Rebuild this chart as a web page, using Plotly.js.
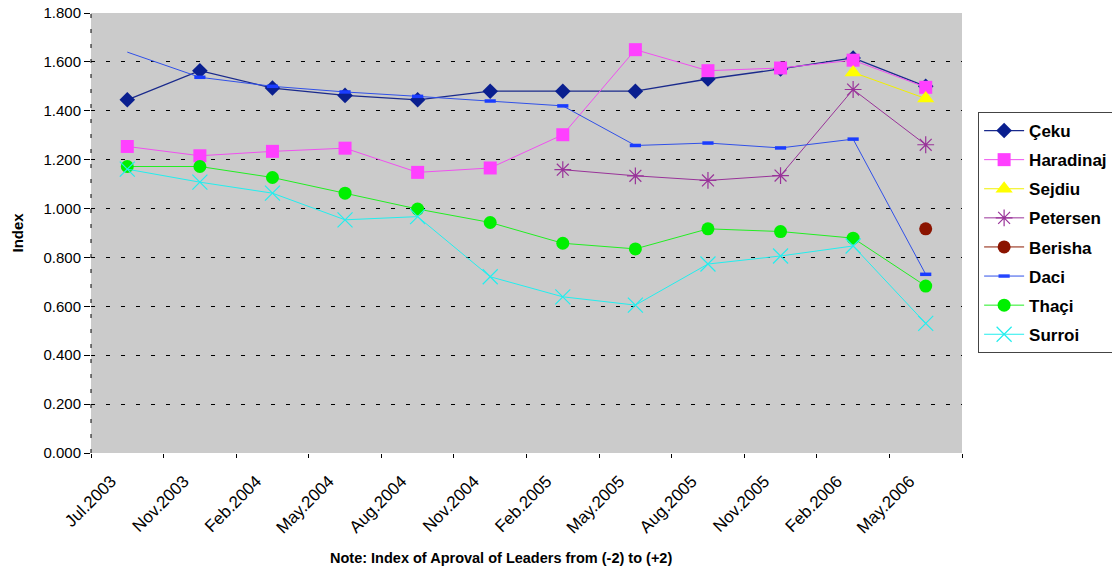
<!DOCTYPE html>
<html><head><meta charset="utf-8">
<script src="https://cdn.plot.ly/plotly-3.0.1.min.js"></script>
<style>body{margin:0;background:#fff}#chart{width:1112px;height:571px}</style>
</head><body><div id="chart"></div>
<script>
const periods = ["Jul.2003","Nov.2003","Feb.2004","May.2004","Aug.2004","Nov.2004","Feb.2005","May.2005","Aug.2005","Nov.2005","Feb.2006","May.2006"];
const ceku      = [1.445,1.564,1.493,1.463,1.445,1.480,1.480,1.480,1.530,1.571,1.616,1.500];
const haradinaj = [1.254,1.216,1.234,1.247,1.148,1.166,1.302,1.650,1.564,1.575,1.607,1.496];
const sejdiu    = [null,null,null,null,null,null,null,null,null,null,1.557,1.450];
const petersen  = [null,null,null,null,null,null,1.159,1.134,1.115,1.135,1.487,1.261];
const berisha   = [null,null,null,null,null,null,null,null,null,null,null,0.917];
const daci      = [1.640,1.537,1.500,1.477,1.459,1.440,1.420,1.258,1.268,1.248,1.284,0.731];
const thaci     = [1.172,1.172,1.127,1.063,0.998,0.943,0.858,0.835,0.917,0.906,0.879,0.683];
const surroi    = [1.161,1.108,1.063,0.954,0.967,0.721,0.639,0.605,0.773,0.806,0.847,0.530];
const yTicks = [0,0.2,0.4,0.6,0.8,1.0,1.2,1.4,1.6,1.8];

function tr(name, y, lineColor, lw, sym, size, mcolor, mline){
  return {x: periods, y: y, name: name, type: 'scatter', mode: 'lines+markers',
    legendgroup: name, connectgaps: false,
    line: {color: lineColor, width: lw},
    marker: {symbol: sym, size: size, color: mcolor, line: mline || {width: 0}}};
}
const traces = [
  tr('Çeku', ceku, '#1a2a8c', 1.3, 'diamond', 12, '#0a1f8f'),
  tr('Haradinaj', haradinaj, '#f050f0', 1, 'square', 13, '#ff40ff'),
  tr('Sejdiu', sejdiu, '#f0f000', 1, 'triangle-up', 15, '#ffff00'),
  tr('Petersen', petersen, '#993399', 1, 'asterisk-open', 14, '#993399', {color:'#993399', width:1.2}),
  tr('Berisha', berisha, '#8b1a00', 1, 'circle', 13, '#8b1400'),
  tr('Daci', daci, '#3050e8', 1, 'line-ew-open', 8, '#1a3cff', {color:'#1a3cff', width:3.5}),
  tr('Thaçi', thaci, '#22ee22', 1, 'circle', 13, '#00f000'),
  tr('Surroi', surroi, '#22eeee', 1, 'x-thin-open', 15, '#22eeee', {color:'#22eeee', width:1.2})
];
traces[5].marker.opacity = periods.map((p, i) => i === 0 ? 0 : 1);
const F = 'Arial, "Liberation Sans", sans-serif';
const layout = {
  width: 1112, height: 571,
  margin: {l: 91, r: 150, t: 13, b: 118, autoexpand: false},
  paper_bgcolor: '#ffffff', plot_bgcolor: '#cbcbcb',
  font: {family: F, color: '#000'},
  showlegend: true,
  legend: {x: 1.0185, xanchor: 'left', y: 0.775, yanchor: 'top', bgcolor: '#fff',
    bordercolor: '#444', borderwidth: 1, font: {family: F, size: 17, color: '#000', weight: 'bold'},
    tracegroupgap: 4, itemwidth: 40, traceorder: 'grouped'},
  xaxis: {type: 'category', tickangle: -45, tickfont: {family: F, size: 17},
    showgrid: false, zeroline: false, showline: false, ticks: 'outside', tickson: 'boundaries',
    ticklen: 4, tickcolor: '#000', ticklabelstandoff: 14, ticklabelshift: -16,
    automargin: false, range: [-0.5, 11.5]},
  yaxis: {range: [0, 1.8], tickvals: yTicks, tickformat: '.3f', tickfont: {family: F, size: 15},
    showgrid: true, gridcolor: '#000', gridwidth: 1, griddash: '4px,11px',
    zeroline: false, showline: false, ticks: 'outside', ticklen: 6, tickcolor: '#000',
    automargin: false},
  shapes: [{type: 'line', xref: 'paper', yref: 'paper', x0: 0, x1: 0, y0: 0, y1: 1,
    line: {color: '#000', width: 1, dash: '4px,11px'}}],
  annotations: [
    {text: 'Index', xref: 'paper', yref: 'paper', x: -0.0855, y: 0.5, textangle: -90,
     showarrow: false, font: {family: F, size: 15, weight: 'bold'}, xanchor: 'center', yanchor: 'middle'},
    {text: 'Note: Index of Aproval of Leaders from (-2) to (+2)', xref: 'paper', yref: 'paper',
     x: 0.471, y: -0.239, showarrow: false, font: {family: F, size: 14.5, weight: 'bold'},
     xanchor: 'center', yanchor: 'middle'}
  ]
};
Plotly.newPlot('chart', traces, layout, {displayModeBar: false});
</script></body></html>
